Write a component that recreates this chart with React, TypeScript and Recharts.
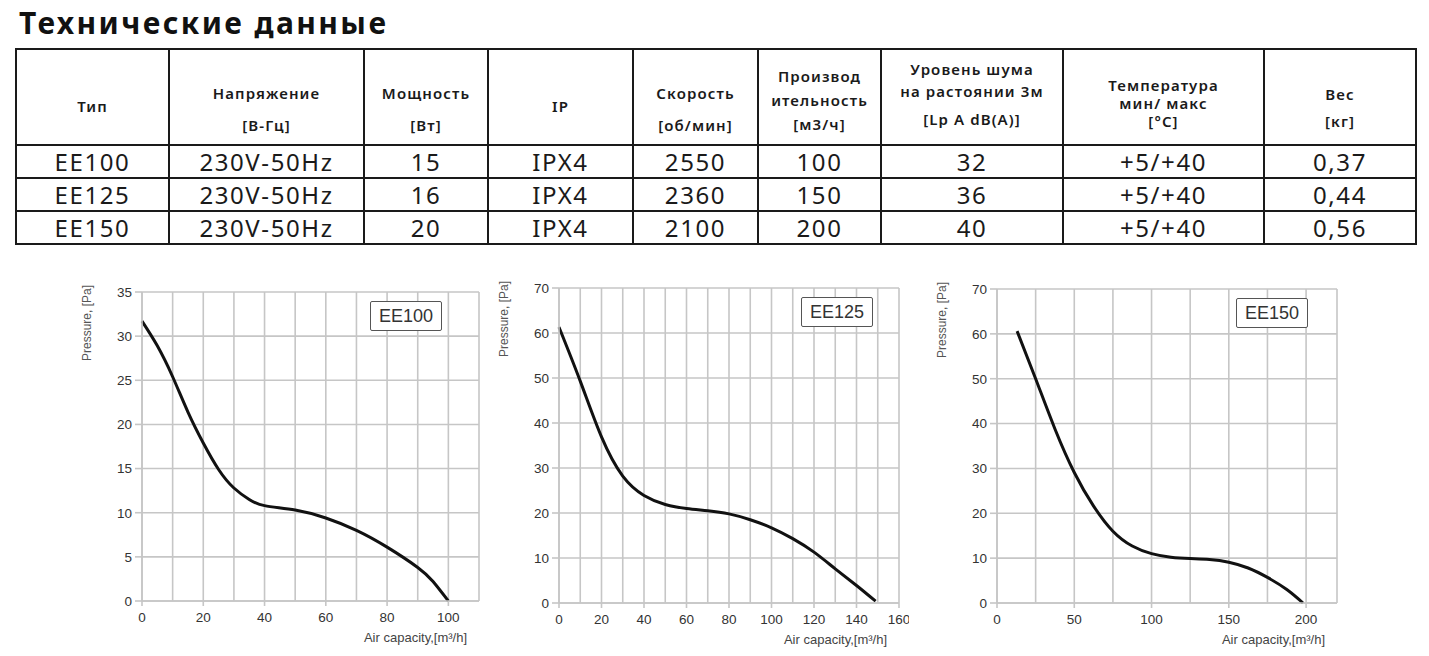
import React from 'react';
import { LineChart, Line, XAxis, YAxis, CartesianGrid, Label } from 'recharts';

const TITLE = 'Технические данные';

const HEADERS = [
  ['Тип'],
  ['Напряжение', '[В-Гц]'],
  ['Мощность', '[Вт]'],
  ['IP'],
  ['Скорость', '[об/мин]'],
  ['Производ', 'ительность', '[м3/ч]'],
  ['Уровень шума', 'на растоянии 3м', '[Lp A dB(A)]'],
  ['Температура', 'мин/ макс', '[°C]'],
  ['Вес', '[кг]'],
];

const MODELS = ['EE100', 'EE125', 'EE150'];
const VOLTAGE = ['230V-50Hz', '230V-50Hz', '230V-50Hz'];
const POWER = ['15', '16', '20'];
const IP_CLASS = ['IPX4', 'IPX4', 'IPX4'];
const SPEED = ['2550', '2360', '2100'];
const CAPACITY = ['100', '150', '200'];
const NOISE = ['32', '36', '40'];
const TEMPERATURE = ['+5/+40', '+5/+40', '+5/+40'];
const WEIGHT = ['0,37', '0,44', '0,56'];

// fan curves: air capacity [m3/h] vs pressure [Pa]
const EE100_Q = [0, 5, 10, 15, 20, 25, 30, 35, 40, 50, 60, 70, 80, 90, 95, 100];
const EE100_P = [31.7, 28.9, 25.4, 21.4, 17.9, 14.9, 12.8, 11.5, 10.8, 10.3, 9.4, 8.0, 6.1, 3.8, 2.2, 0];
const EE125_Q = [0, 10, 20, 30, 40, 50, 60, 70, 80, 90, 100, 110, 120, 130, 140, 149];
const EE125_P = [61.3, 49.3, 36.9, 28.2, 23.9, 21.9, 21.0, 20.5, 19.8, 18.5, 16.7, 14.3, 11.3, 7.6, 3.9, 0.4];
const EE150_Q = [13, 25, 37.5, 50, 62.5, 75, 87.5, 100, 112.5, 125, 137.5, 150, 162.5, 175, 187.5, 198];
const EE150_P = [60.6, 50, 38.8, 29.1, 21.6, 16, 12.7, 11, 10.2, 9.9, 9.7, 9.1, 7.8, 5.7, 3.0, 0];

const EE100_X_TICKS = [0, 10, 20, 30, 40, 50, 60, 70, 80, 90, 100, 110];
const EE100_X_LABELS = [0, 20, 40, 60, 80, 100];
const EE100_Y_TICKS = [0, 5, 10, 15, 20, 25, 30, 35];
const EE125_X_TICKS = [0, 10, 20, 30, 40, 50, 60, 70, 80, 90, 100, 110, 120, 130, 140, 150, 160];
const EE125_X_LABELS = [0, 20, 40, 60, 80, 100, 120, 140, 160];
const EE125_Y_TICKS = [0, 10, 20, 30, 40, 50, 60, 70];
const EE150_X_TICKS = [0, 25, 50, 75, 100, 125, 150, 175, 200, 220];
const EE150_X_LABELS = [0, 50, 100, 150, 200];
const EE150_Y_TICKS = [0, 10, 20, 30, 40, 50, 60, 70];

const GRID = '#c6c6c6';
const TICK_TEXT = '#333';
const CHART_FONT = '"Liberation Sans", Arial, sans-serif';
const TABLE_FONT = '"Noto Sans", sans-serif';

const COL_WIDTHS = [153, 195, 124, 145, 125, 123, 182, 201, 152];
const HEAD_PAD = [45, 27, 27, 45, 27, 14, 8, 26, 31];
const HEAD_LINE = [22, 32, 32, 22, 32, 24, 22, 18, 27];

const Y_AXIS_W = 70;
const X_AXIS_H = 45;

interface CurveProps {
  name: string;
  q: number[];
  p: number[];
  xTicks: number[];
  xLabels: number[];
  yTicks: number[];
  left: number;
  top: number;
  width: number;
  height: number;
  boxRight: number;
}

const XTick = (props: any) => {
  const { x, y, payload, labels } = props;
  if (!labels.includes(payload.value)) return null;
  return (
    <g>
      <line x1={x} x2={x} y1={y - 11} y2={y - 6} stroke={GRID} strokeWidth={1.6} />
      <text x={x} y={y} dy="0.71em" textAnchor="middle" fontSize={13.5} fill={TICK_TEXT} fontFamily={CHART_FONT}>
        {payload.value}
      </text>
    </g>
  );
};

const CurveChart: React.FC<CurveProps> = ({ name, q, p, xTicks, xLabels, yTicks, left, top, width, height, boxRight }) => {
  const data = q.map((v, i) => ({ q: v, p: p[i] }));
  const xMax = xTicks[xTicks.length - 1];
  const yMax = yTicks[yTicks.length - 1];
  return (
    <div style={{ position: 'absolute', left, top, width, height }}>
      <LineChart width={width} height={height} data={data} margin={{ top: 10, right: 10, left: 0, bottom: 0 }}>
        <CartesianGrid stroke={GRID} strokeWidth={1.6} />
        <XAxis
          type="number"
          dataKey="q"
          domain={[0, xMax]}
          ticks={xTicks}
          interval={0}
          height={X_AXIS_H}
          axisLine={{ stroke: GRID, strokeWidth: 1.6 }}
          tickLine={false}
          tickSize={5}
          tickMargin={6}
          tick={<XTick labels={xLabels} />}
        >
          <Label
            content={(lp: any) => {
              const vb = lp.viewBox;
              return (
                <text x={vb.x + vb.width - 12} y={vb.y + 36} textAnchor="end" dominantBaseline="central"
                  fontSize={13} fill="#444" fontFamily={CHART_FONT}>
                  Air capacity,[m³/h]
                </text>
              );
            }}
          />
        </XAxis>
        <YAxis
          type="number"
          domain={[0, yMax]}
          ticks={yTicks}
          interval={0}
          width={Y_AXIS_W}
          axisLine={{ stroke: GRID, strokeWidth: 1.6 }}
          tickLine={{ stroke: GRID, strokeWidth: 1.6 }}
          tickSize={7}
          tickMargin={3}
          tick={{ fontSize: 13.5, fill: TICK_TEXT, fontFamily: CHART_FONT }}
        >
          <Label
            content={(lp: any) => {
              const vb = lp.viewBox;
              const cx = vb.x + 15;
              const cy = vb.y - 7;
              return (
                <text x={cx} y={cy} transform={`rotate(-90, ${cx}, ${cy})`} textAnchor="end" dominantBaseline="central"
                  fontSize={12} fill="#555" fontFamily={CHART_FONT}>
                  Pressure, [Pa]
                </text>
              );
            }}
          />
        </YAxis>
        <Line type="natural" dataKey="p" stroke="#111" strokeWidth={3} dot={false} isAnimationActive={false} />
      </LineChart>
      <div
        style={{
          position: 'absolute',
          top: 19,
          right: boxRight,
          width: 70,
          height: 28,
          border: '1.5px solid #555',
          borderRadius: 2,
          background: '#fff',
          fontFamily: CHART_FONT,
          fontSize: 18,
          color: '#333',
          lineHeight: '28px',
          textAlign: 'center',
        }}
      >
        {name}
      </div>
    </div>
  );
};

const App: React.FC = () => {
  const rows = MODELS.map((m, i) => [m, VOLTAGE[i], POWER[i], IP_CLASS[i], SPEED[i], CAPACITY[i], NOISE[i], TEMPERATURE[i], WEIGHT[i]]);
  const cellBorder = '2px solid #1a1a1a';
  return (
    <div style={{ position: 'absolute', left: 0, top: 0, width: 1429, height: 656, background: '#fff', overflow: 'hidden' }}>
      {/* Title */}
      <div
        style={{
          position: 'absolute', left: 19, top: 3, fontFamily: TABLE_FONT, fontWeight: 700,
          fontSize: 30, letterSpacing: 2.4, color: '#111', lineHeight: '40px',
        }}
      >
        {TITLE}
      </div>

      {/* Spec table */}
      <table
        style={{
          position: 'absolute', left: 15, top: 48, width: 1400, borderCollapse: 'collapse',
          tableLayout: 'fixed', fontFamily: TABLE_FONT, color: '#1a1a1a',
        }}
      >
        <colgroup>
          {COL_WIDTHS.map((w, i) => <col key={i} style={{ width: w }} />)}
        </colgroup>
        <tbody>
          <tr style={{ height: 96 }}>
            {HEADERS.map((lines, i) => (
              <td key={i} style={{ border: cellBorder, verticalAlign: 'top', padding: 0, paddingTop: HEAD_PAD[i], textAlign: 'center', fontSize: 15, fontWeight: 600, letterSpacing: 1.1 }}>
                {lines.map((l, j) => (
                  <div key={j} style={{ lineHeight: `${HEAD_LINE[i]}px`, marginTop: i === 6 && j === 2 ? 6 : 0, whiteSpace: 'nowrap' }}>{l}</div>
                ))}
              </td>
            ))}
          </tr>
          {rows.map((r, ri) => (
            <tr key={ri} style={{ height: 33 }}>
              {r.map((c, ci) => (
                <td key={ci} style={{ border: cellBorder, padding: 0, textAlign: 'center', fontSize: 24, letterSpacing: 1.6, lineHeight: '29px' }}>{c}</td>
              ))}
            </tr>
          ))}
        </tbody>
      </table>

      <CurveChart name="EE100" q={EE100_Q} p={EE100_P} xTicks={EE100_X_TICKS} xLabels={EE100_X_LABELS} yTicks={EE100_Y_TICKS}
        left={72} top={282} width={417} height={364} boxRight={47} />
      <CurveChart name="EE125" q={EE125_Q} p={EE125_P} xTicks={EE125_X_TICKS} xLabels={EE125_X_LABELS} yTicks={EE125_Y_TICKS}
        left={489} top={278} width={420} height={370} boxRight={36} />
      <CurveChart name="EE150" q={EE150_Q} p={EE150_P} xTicks={EE150_X_TICKS} xLabels={EE150_X_LABELS} yTicks={EE150_Y_TICKS}
        left={927} top={279} width={420} height={369} boxRight={39} />
    </div>
  );
};

export default App;
